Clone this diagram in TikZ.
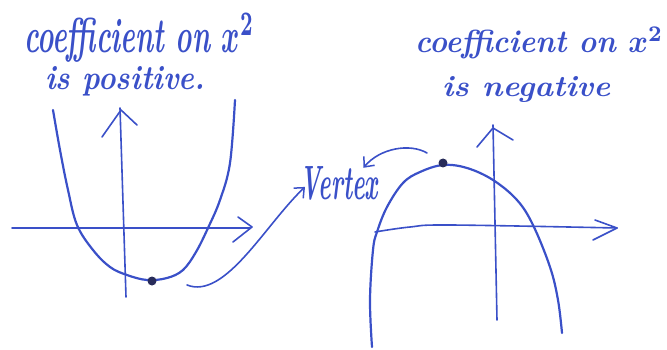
\documentclass[tikz,border=0pt]{standalone}
\usetikzlibrary{arrows.meta,calc}
\definecolor{ink}{RGB}{58,80,200}
\definecolor{dotink}{RGB}{40,44,90}
\tikzset{
  pen/.style={draw=ink,line width=2.2pt,line cap=round,line join=round},
  thinpen/.style={draw=ink,line width=1.6pt,line cap=round,line join=round},
  vdot/.style={circle,fill=dotink,inner sep=0pt,minimum size=9pt},
  hand/.style={text=ink,inner sep=0pt,font=\mathversion{bold}\bfseries\itshape},
  pointer/.style={thinpen,-{Straight Barb[length=8pt,width=14pt,line width=1.5pt]}}
}
\begin{document}
\begin{tikzpicture}[x=1pt,y=-1pt]
\useasboundingbox (0,0) rectangle (667,350);
% ---- titles ----
\node[hand,anchor=base west] (tl1) at (24,53) {\resizebox{230pt}{40pt}{coefficient on $x^{2}$}};
\node[hand,anchor=base west] (tl2) at (45,90) {\resizebox{160pt}{23pt}{is positive.}};
\node[hand,anchor=base west] (tr1) at (415,53) {\resizebox{248pt}{26pt}{coefficient on $x^{2}$}};
\node[hand,anchor=base west] (tr2) at (442,97) {\resizebox{168pt}{20pt}{is negative}};
% ---- left graph ----
\draw[thinpen] (12,228) -- (250,228);
\draw[thinpen] (238,217) -- (252,227) -- (233,242);
\draw[thinpen] (120,108) -- (126,297);
\draw[thinpen] (102,137) -- (121,110) -- (137,125);
\draw[pen] plot[smooth,tension=0.6] coordinates {(53,110) (60,150) (68,190) (77,225) (93,250) (110,267) (127,275) (147,280) (167,278) (183,270) (196,252) (208,228) (220,200) (230,163) (235,100)};
\node[vdot] (vl) at (152,281) {};
% ---- right graph ----
\draw[thinpen] plot[smooth,tension=0.6] coordinates {(375,232) (410,227) (450,225) (617,228)};
\draw[thinpen] (595,220) -- (617,228) -- (593,240);
\draw[thinpen] (493,125) -- (497,320);
\draw[thinpen] (477,147) -- (493,128) -- (513,140);
\draw[pen] plot[smooth,tension=0.6] coordinates {(372,347) (370,300) (373,250) (377,232) (387,207) (403,183) (420,172) (443,165) (467,168) (493,180) (517,200) (533,225) (550,267) (558,300) (562,333)};
\node[vdot] (vr) at (443,163) {};
% ---- Vertex label and pointers ----
\node[hand,anchor=base west] (vtx) at (300,200) {\resizebox{78pt}{33pt}{Vertex}};
\coordinate (ls) at (187,285);
\coordinate (rs) at (427,153);
\draw[pointer] (ls) .. controls (225,300) and (265,225) .. ($(vtx.west)+(5,3)$);
\draw[pointer] (rs) .. controls (410,143) and (380,148) .. ($(vtx.north east)+(-15,1)$);
\end{tikzpicture}
\end{document}
